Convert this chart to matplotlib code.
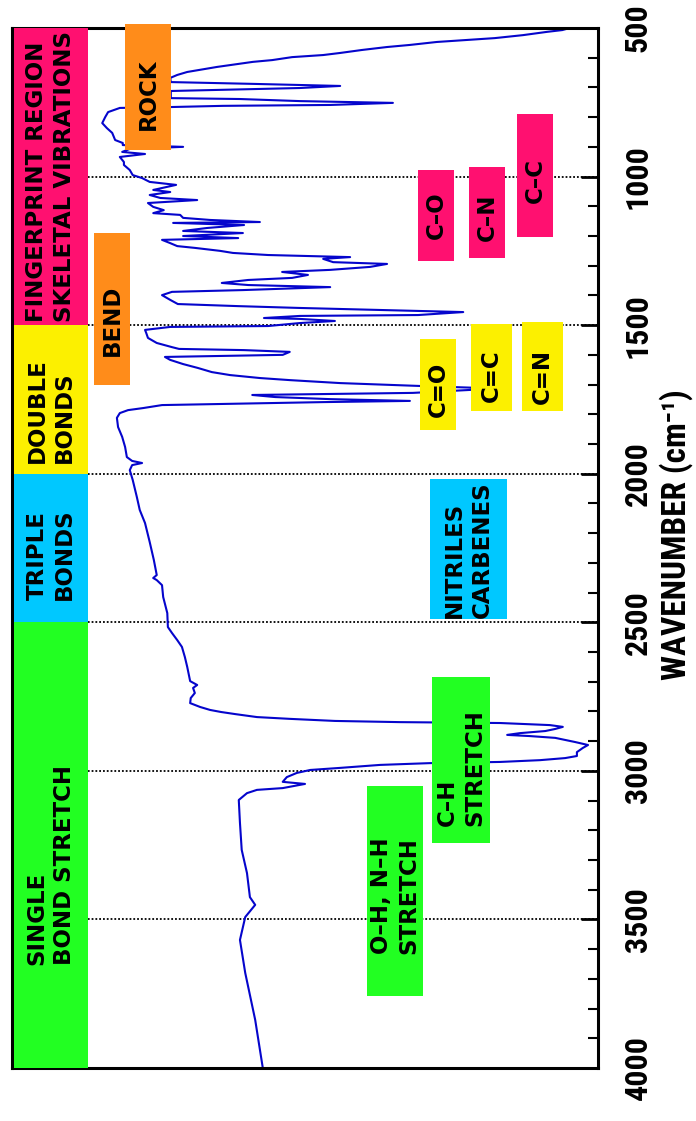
import matplotlib
matplotlib.use("Agg")
import matplotlib.pyplot as plt
from matplotlib.patches import Rectangle

# spectrum: wavenumber (cm-1) and transmittance (%)
wavenumber = [4000, 3838, 3680, 3569, 3492, 3451, 3425, 3344, 3266, 3175, 3098, 3075, 3064, 3058,
              3044, 3037, 3021, 3007, 2997, 2990, 2980, 2974, 2970, 2964, 2957, 2950, 2937, 2923,
              2913, 2903, 2889, 2883, 2879, 2873, 2866, 2859, 2852, 2846, 2839, 2836, 2832, 2825,
              2819, 2809, 2802, 2795, 2785, 2772, 2755, 2738, 2721, 2711, 2698, 2650, 2617, 2583,
              2560, 2536, 2516, 2469, 2415, 2375, 2358, 2351, 2341, 2290, 2230, 2166, 2122, 2078,
              2021, 1988, 1971, 1964, 1957, 1944, 1910, 1876, 1843, 1812, 1796, 1786, 1779, 1769,
              1765, 1759, 1755, 1749, 1742, 1735, 1728, 1718, 1712, 1705, 1695, 1685, 1678, 1668,
              1658, 1644, 1631, 1617, 1607, 1600, 1590, 1584, 1580, 1574, 1560, 1543, 1526, 1516,
              1506, 1503, 1493, 1486, 1479, 1476, 1469, 1466, 1456, 1449, 1442, 1436, 1429, 1415,
              1399, 1388, 1382, 1372, 1365, 1358, 1348, 1341, 1331, 1321, 1314, 1304, 1294, 1288,
              1277, 1271, 1264, 1257, 1250, 1240, 1234, 1224, 1213, 1207, 1200, 1190, 1183, 1173,
              1163, 1156, 1153, 1146, 1139, 1129, 1123, 1113, 1102, 1089, 1079, 1072, 1062, 1052,
              1045, 1028, 1018, 1005, 995, 978, 961, 951, 934, 924, 917, 907, 900, 894, 887, 877,
              853, 837, 820, 800, 783, 769, 766, 762, 759, 752, 746, 739, 736, 712, 702, 695, 688,
              682, 668, 658, 648, 631, 625, 614, 608, 598, 591, 584, 574, 564, 557, 547, 540, 534,
              524, 513, 507, 500]
transmittance = [57.2, 58.5, 60.2, 61.1, 60.2, 58.5, 59.4, 59.9, 60.8, 61.1, 61.3, 59.9, 58.2, 53.8,
                 50.0, 53.8, 53.1, 51.4, 49.1, 44.0, 37.2, 28.7, 16.7, 9.9, 5.6, 3.6, 3.6, 2.6,
                 1.7, 3.9, 7.3, 11.6, 15.5, 13.3, 9.0, 7.3, 6.0, 8.2, 16.7, 33.8, 44.9, 52.6,
                 58.2, 61.9, 64.3, 66.2, 67.9, 69.6, 69.5, 68.8, 69.1, 68.4, 69.6, 70.1, 70.5, 71.0,
                 71.8, 72.7, 73.4, 73.5, 74.2, 74.4, 75.3, 75.9, 75.3, 75.8, 76.5, 77.3, 78.2, 78.7,
                 79.4, 79.9, 79.5, 77.8, 79.5, 80.4, 80.7, 81.2, 81.9, 82.1, 81.6, 80.2, 77.6, 74.4,
                 63.3, 46.9, 32.1, 45.7, 55.1, 59.0, 31.6, 21.8, 19.1, 30.0, 44.0, 52.6, 57.7, 62.8,
                 65.9, 68.3, 70.8, 73.0, 73.9, 53.8, 52.6, 60.4, 71.5, 72.7, 75.3, 76.8, 77.1, 77.3,
                 73.0, 56.3, 50.9, 44.9, 50.9, 57.0, 50.9, 30.7, 23.0, 36.9, 51.2, 61.4, 71.7, 73.0,
                 74.4, 72.7, 60.6, 45.7, 59.7, 64.2, 59.7, 52.2, 49.5, 53.9, 45.7, 38.9, 36.0, 45.2,
                 46.9, 42.3, 56.3, 62.3, 64.5, 68.8, 71.8, 73.0, 74.4, 61.4, 70.8, 60.6, 70.8, 66.7,
                 60.4, 72.5, 57.7, 66.2, 70.8, 71.3, 75.9, 74.1, 75.9, 76.8, 68.4, 74.7, 76.5, 73.0,
                 75.9, 72.0, 76.5, 77.8, 79.4, 79.9, 80.9, 80.9, 81.6, 77.3, 81.2, 79.9, 70.8, 81.1, 81.1, 82.4,
                 82.9, 83.8, 84.6, 84.1, 83.6, 81.6, 72.9, 64.0, 45.7, 35.0, 50.9, 61.1, 72.9, 72.9, 50.9, 44.0, 59.0,
                 72.9, 73.0, 71.8, 70.1, 65.0, 62.8, 58.9, 55.6, 52.2, 46.9, 44.0, 40.3, 36.0, 32.1, 27.5, 22.2, 17.6,
                 12.8, 8.7, 6.1, 4.8]

# regions along the left edge
band_text = ["FINGERPRINT REGION\nSKELETAL VIBRATIONS", "DOUBLE\nBONDS", "TRIPLE\nBONDS",
             "SINGLE\nBOND STRETCH"]
band_lo = [500, 1500, 2000, 2500]
band_hi = [1500, 2000, 2500, 4000]
band_start = [1489, 1964, 2425, 3653]

PINK = "#ff1070"
YELLOW = "#fcf000"
BLUE = "#00c8ff"
GREEN = "#22ff22"
ORANGE = "#ff8c1a"
band_colors = [PINK, YELLOW, BLUE, GREEN]

# labelled boxes: text, left, right (axes fraction), wavenumber span, text centre
box_text = ["ROCK", "BEND", "C–O", "C–N", "C–C", "C=O", "C=C", "C=N",
            "NITRILES\nCARBENES", "C–H\nSTRETCH", "O–H, N–H\nSTRETCH"]
box_x0 = [0.193, 0.140, 0.693, 0.780, 0.862, 0.696, 0.783, 0.870, 0.713, 0.717, 0.606]
box_x1 = [0.271, 0.201, 0.754, 0.841, 0.923, 0.758, 0.853, 0.940, 0.845, 0.816, 0.701]
box_w0 = [487, 1190, 978, 968, 789, 1547, 1496, 1489, 2018, 2684, 3051]
box_w1 = [911, 1701, 1284, 1274, 1203, 1853, 1789, 1789, 2489, 3243, 3758]
box_wc = [722, 1483, 1129, 1136, 1012, 1715, 1671, 1671, 2257, 2990, 3418]
box_colors = [ORANGE, ORANGE, PINK, PINK, PINK, YELLOW, YELLOW, YELLOW, BLUE, GREEN, GREEN]

grid_at = [1000, 1500, 2000, 2500, 3000, 3500]

narrow = ["Roboto Condensed", "DejaVu Sans"]

fig = plt.figure(figsize=(6.96, 11.21), dpi=100)
ax = fig.add_axes([12 / 696, 1 - 1068 / 1121, 586 / 696, 1040 / 1121])
ax.set_xlim(100, 0)
ax.set_ylim(4000, 500)
yt = ax.get_yaxis_transform()

for w in grid_at:
    ax.plot([0, 1], [w, w], transform=yt, color="black", lw=1.3,
            ls=(0, (1, 1.1)), zorder=1)

ax.plot(transmittance, wavenumber, color="#0505cc", lw=1.5, zorder=2)

bold = dict(fontsize=16.5, fontweight="bold", family="DejaVu Sans", linespacing=1.25,
            multialignment="left", rotation=90, zorder=5)

for t, lo, hi, st, c in zip(band_text, band_lo, band_hi, band_start, band_colors):
    ax.add_patch(Rectangle((0.004, lo), 0.126, hi - lo, transform=yt, color=c,
                           lw=0, zorder=4))
    ax.text(0.066, st, t, transform=yt, ha="center", va="bottom", **bold)

for t, x0, x1, w0, w1, wc, c in zip(box_text, box_x0, box_x1, box_w0, box_w1, box_wc, box_colors):
    ax.add_patch(Rectangle((x0, w0), x1 - x0, w1 - w0, transform=yt, color=c,
                           lw=0, zorder=4, clip_on=False))
    ax.text((x0 + x1) / 2, wc, t, transform=yt, ha="center", va="center", **bold)

ax.set_xticks([])
ax.yaxis.tick_right()
ax.set_yticks(range(500, 4001, 500))
ax.set_yticks(range(500, 4001, 100), minor=True)
ax.tick_params(axis="y", which="major", direction="in", length=12, width=2, pad=18)
ax.tick_params(axis="y", which="minor", direction="in", length=7, width=1.5)
for lab in ax.get_yticklabels():
    lab.set_rotation(90)
    lab.set_va("center")
    lab.set_fontsize(23)
    lab.set_fontweight("bold")
    lab.set_family(narrow)
fig.text(686 / 696, 1 - 535 / 1121, "WAVENUMBER (cm⁻¹)", rotation=90, rotation_mode="anchor",
         ha="center", va="baseline", fontsize=24, fontweight="bold", family=narrow)
for s in ax.spines.values():
    s.set_linewidth(2.2)

fig.savefig("out.png", dpi=100)
